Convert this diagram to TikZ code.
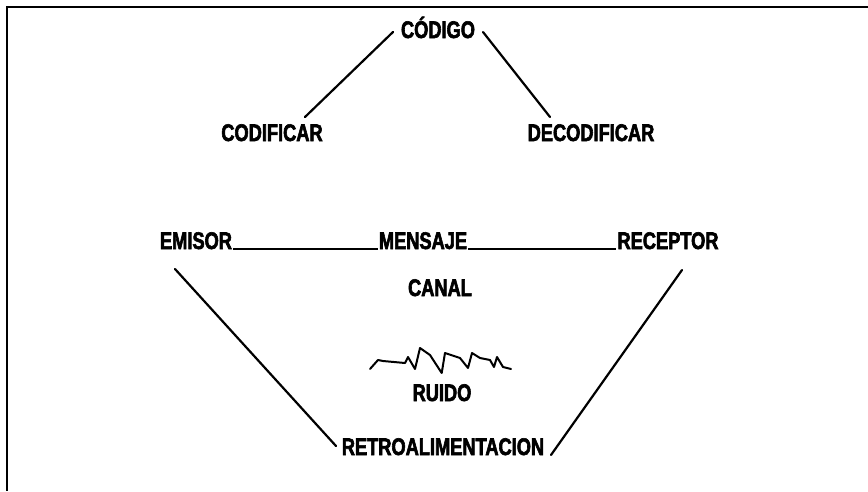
\documentclass[tikz,border=0pt]{standalone}
\usepackage{fontspec}
\newfontfamily\lbl[FakeStretch=0.76,FakeBold=2.5]{Liberation Sans Bold}
\begin{document}
\begin{tikzpicture}[x=1pt,y=-1pt,
  lab/.style={font=\lbl\fontsize{24}{26}\selectfont, inner sep=0pt, anchor=base},
  ln/.style={line width=2.2pt, line cap=round},
  hl/.style={line width=1.4pt}]
\useasboundingbox (0,0) rectangle (868,491);
% frame
\coordinate (ftr) at (868,7);
\coordinate (ftl) at (7,7);
\coordinate (fbl) at (7,491);
\draw[line width=2.2pt] (ftr) -- (ftl) -- (fbl);
% labels
\node[lab] (codigo) at (438,38) {CÓDIGO};
\node[lab] (codificar) at (272,141) {CODIFICAR};
\node[lab] (decodificar) at (591,141) {DECODIFICAR};
\node[lab] (emisor) at (196,249) {EMISOR};
\node[lab] (mensaje) at (423,249) {MENSAJE};
\node[lab] (receptor) at (668,249) {RECEPTOR};
\node[lab] (canal) at (440,296) {CANAL};
\node[lab] (ruido) at (442,401) {RUIDO};
\node[lab] (retro) at (443,455) {RETROALIMENTACION};
% connectors
\coordinate (c1) at (393,32);
\coordinate (c2) at (305,117);
\coordinate (c3) at (483,32);
\coordinate (c4) at (550,117);
\draw[ln] (c1) -- (c2);
\draw[ln] (c3) -- (c4);
\draw[hl] ([xshift=1pt]emisor.base east) -- ([xshift=-1pt]mensaje.base west);
\draw[hl] ([xshift=1pt]mensaje.base east) -- ([xshift=-1pt]receptor.base west);
\coordinate (e1) at (175,269);
\coordinate (e2) at (336,446);
\coordinate (r1) at (682,270);
\coordinate (r2) at (551,455);
\draw[ln] (e1) -- (e2);
\draw[ln] (r1) -- (r2);
% noise squiggle
\draw[line width=2pt, line join=round, line cap=round]
  (370,369) -- (378,360) -- (383,361) -- (405,363) -- (408,357) -- (415,369)
  -- (420,348) -- (430,355) -- (441.7,373) -- (445,353) -- (460,358)
  -- (468,368) -- (472,353) -- (480,358) -- (490,360) -- (494,367)
  -- (497,357) -- (503,367) -- (511,369);
\end{tikzpicture}
\end{document}
